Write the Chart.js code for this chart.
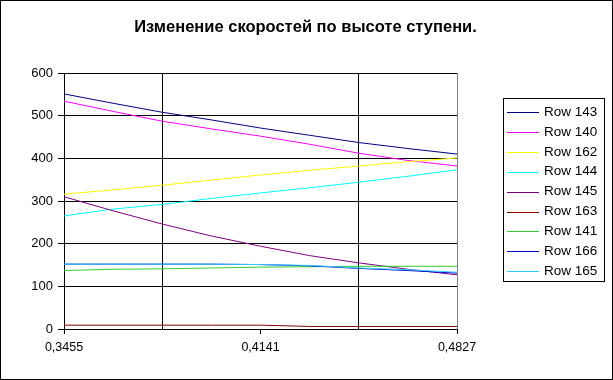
<!DOCTYPE html>
<html>
<head>
<meta charset="utf-8">
<script src="https://cdn.jsdelivr.net/npm/chart.js@4"></script>
<style>
  html, body { margin: 0; padding: 0; background: #fff; }
  #wrap { width: 613px; height: 380px; box-sizing: border-box; border: 1px solid #000; }
</style>
</head>
<body>
<div id="wrap"><canvas id="speedChart"></canvas></div>
<script>
// heights along the stage (x axis)
const heights = [0.3455, 0.36265, 0.3798, 0.39695, 0.4141, 0.43125, 0.4484, 0.46555, 0.4827];
const xTicks = [0.3455, 0.3798, 0.4141, 0.4484, 0.4827];
const xTickLabels = ['0,3455', '', '0,4141', '', '0,4827'];
const yTicks = [0, 100, 200, 300, 400, 500, 600];
const chartTitle = 'Изменение скоростей по высоте ступени.';

const seriesNames = ['Row 143', 'Row 140', 'Row 162', 'Row 144', 'Row 145', 'Row 163', 'Row 141', 'Row 166', 'Row 165'];
const row143 = [551, 529, 508, 490, 471, 454, 437, 423, 410];
const row140 = [534, 510, 487, 469, 452, 433, 412, 395, 382];
const row162 = [316, 326, 337, 349, 361, 372, 382, 392, 401];
const row144 = [265, 281, 292, 306, 319, 331, 344, 358, 373];
const row145 = [310, 277, 246, 218, 194, 172, 155, 140, 127];
const row163 = [9, 9, 9, 9, 9, 6, 6, 6, 6];
const row141 = [137, 140, 141, 143, 145, 146, 147, 147, 147];
const row166 = [152, 152, 152, 152, 151, 148, 142, 137, 131];
const row165 = [152, 152, 152, 152, 151, 149, 143, 139, 133];

const seriesValues = [row143, row140, row162, row144, row145, row163, row141, row166, row165];
const colors = ['#000080', '#ff00ff', '#ffff00', '#00ffff', '#800080', '#800000', '#33cc33', '#0000cc', '#33ccff'];

const FONT = 'Arial, "Liberation Sans", sans-serif';

const datasets = seriesNames.map((name, i) => ({
    label: name,
    data: seriesValues[i].map((v, j) => ({ x: heights[j], y: v })),
    borderColor: colors[i],
    backgroundColor: colors[i],
    borderWidth: 1,
    pointRadius: 0,
    tension: 0,
    order: seriesNames.length - i // later rows on top, like excel
}));

// title over full width, legend box with frame, grey right edge of plot area
const extras = {
    id: 'extras',
    beforeDatasetsDraw(chart) {
        const a = chart.chartArea;
        const c = chart.ctx;
        c.save();
        c.strokeStyle = '#808080';
        c.lineWidth = 1;
        c.beginPath();
        c.moveTo(Math.round(a.right) + 0.5, a.top);
        c.lineTo(Math.round(a.right) + 0.5, a.bottom);
        c.stroke();
        c.restore();
    },
    afterDraw(chart) {
        const c = chart.ctx;
        c.save();
        c.fillStyle = '#000';
        c.font = 'bold 16.5px ' + FONT;
        c.textAlign = 'center';
        c.textBaseline = 'middle';
        c.fillText(chartTitle, 304.5, 26);

        const left = 502, top = 97, w = 101, h = 183;
        c.strokeStyle = '#000';
        c.lineWidth = 1;
        c.strokeRect(left + 0.5, top + 0.5, w, h);
        c.font = '13.5px ' + FONT;
        c.textAlign = 'left';
        seriesNames.forEach((name, i) => {
            const y = top + 14 + i * 19.9;
            c.strokeStyle = colors[i];
            c.beginPath();
            c.moveTo(left + 4, Math.round(y) + 0.5);
            c.lineTo(left + 36, Math.round(y) + 0.5);
            c.stroke();
            c.fillText(name, left + 41, y);
        });
        c.restore();
    }
};

new Chart(document.getElementById('speedChart'), {
    type: 'line',
    data: { datasets },
    options: {
        responsive: true,
        maintainAspectRatio: false,
        animation: false,
        layout: { padding: { left: 0, right: 155, top: 72, bottom: 0 } },
        plugins: {
            legend: { display: false },
            tooltip: { enabled: false },
            title: { display: false }
        },
        scales: {
            x: {
                type: 'linear',
                min: xTicks[0],
                max: xTicks[xTicks.length - 1],
                afterBuildTicks: s => { s.ticks = xTicks.map(v => ({ value: v })); },
                afterFit: s => { s.height = 50; },
                border: { display: true, color: '#000', width: 1 },
                grid: {
                    color: ctx => (ctx.index % 2 === 1 ? '#000' : 'rgba(0,0,0,0)'),
                    tickColor: ctx => (ctx.index % 2 === 0 ? '#000' : 'rgba(0,0,0,0)'),
                    tickLength: 5,
                    lineWidth: 1
                },
                ticks: {
                    autoSkip: false,
                    maxRotation: 0,
                    color: '#000',
                    padding: 6,
                    font: { family: FONT, size: 12.5 },
                    callback: (v, i) => xTickLabels[i]
                }
            },
            y: {
                min: 0,
                max: 600,
                afterBuildTicks: s => { s.ticks = yTicks.map(v => ({ value: v })); },
                afterFit: s => { s.width = 63; },
                border: { display: true, color: '#000', width: 1 },
                grid: { color: '#000', tickColor: '#000', tickLength: 6, lineWidth: 1 },
                ticks: {
                    color: '#000',
                    padding: 5,
                    font: { family: FONT, size: 13 }
                }
            }
        }
    },
    plugins: [extras]
});
</script>
</body>
</html>
